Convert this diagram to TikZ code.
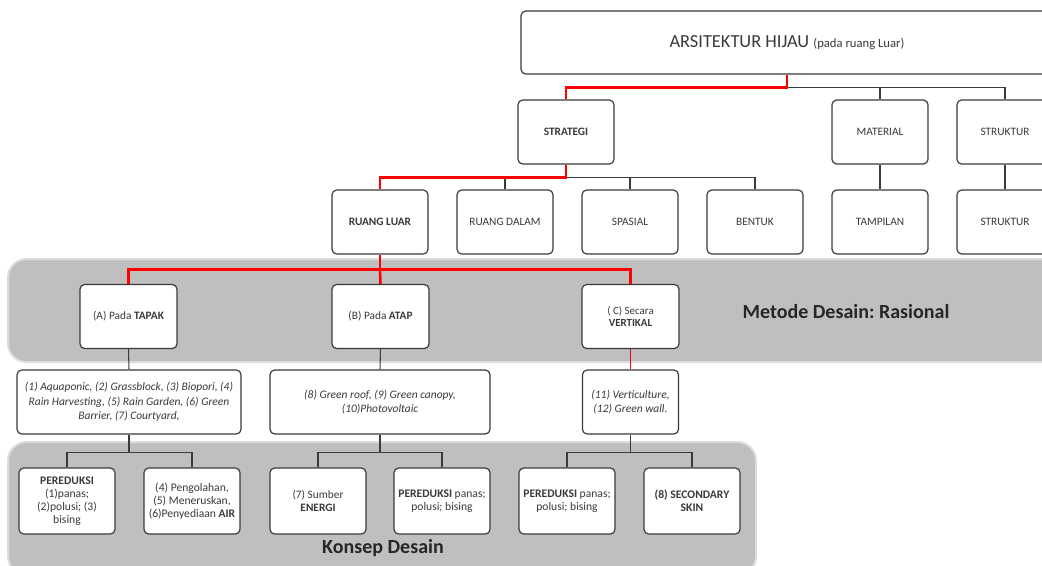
\documentclass[tikz,border=0pt]{standalone}
\usepackage{fontspec}
\setmainfont{Carlito}
\frenchspacing
\definecolor{boxline}{HTML}{3A3A3A}
\definecolor{txt}{HTML}{3A3A3A}
\definecolor{bandfill}{HTML}{BFBFBF}
\definecolor{bandedge}{HTML}{DCDCDC}
\definecolor{redline}{HTML}{FF0000}
\begin{document}
\frenchspacing
\begin{tikzpicture}[x=0.75pt,y=-0.75pt,
  box/.style={draw=boxline, line width=0.9pt, rounded corners=3.5pt, fill=white,
    minimum width=72pt, minimum height=48pt, align=center, inner sep=1pt,
    text=txt, font=\fontsize{8.5}{10.5}\selectfont},
  listbox/.style={box, font=\fontsize{8.6}{10.9}\selectfont\itshape},
  conbox/.style={box, minimum height=49.5pt, font=\fontsize{8.7}{9.6}\selectfont},
  band/.style={fill=bandfill, draw=bandedge, line width=1.5pt, rounded corners=14pt},
  conn/.style={draw=boxline, line width=0.8pt},
  redc/.style={draw=redline, line width=1.9pt},
  bandtitle/.style={font=\fontsize{15}{18}\selectfont\bfseries, text=black!85}
]
\useasboundingbox (0,0) rectangle (1042,565);
% bands
\path[band] (8,259) rectangle (1070,362);
\path[band] (8,442) rectangle (756,575);
\node[bandtitle] (metode) at (846,312) {Metode Desain: Rasional};
\node[bandtitle] (konsep) at (383,548) {Konsep Desain};

% top
\node[box, minimum width=399pt, minimum height=47.25pt] (top) at (787,42.5)
  {\fontsize{13.8}{15}\selectfont ARSITEKTUR HIJAU {\fontsize{9.5}{11}\selectfont (pada ruang Luar)}};

% row 1
\node[box] (strategi) at (566,132) {\textbf{STRATEGI}};
\node[box] (material) at (880,132) {MATERIAL};
\node[box] (struktur) at (1005,132) {STRUKTUR};

% row 2
\node[box] (rluar) at (380,222) {\textbf{RUANG LUAR}};
\node[box] (rdalam) at (505,222) {RUANG DALAM};
\node[box] (spasial) at (630,222) {SPASIAL};
\node[box] (bentuk) at (755,222) {BENTUK};
\node[box] (tampilan) at (880,222) {TAMPILAN};
\node[box] (struktur2) at (1005,222) {STRUKTUR};

% row 3
\node[box, minimum width=72.75pt] (tapak) at (128.5,316.5) {(A) Pada \textbf{TAPAK}};
\node[box, minimum width=72.75pt] (atap) at (380.5,316.5) {(B) Pada \textbf{ATAP}};
\node[box, minimum width=72.75pt, font=\fontsize{8.2}{8.6}\selectfont] (vert) at (630.5,316.5) {( C) Secara\\\textbf{VERTIKAL}};

% row 4
\node[listbox, minimum width=168pt] (l1) at (129,402)
  {(1) Aquaponic, (2) Grassblock, (3) Biopori, (4)\\Rain Harvesting, (5) Rain Garden, (6) Green\\Barrier, (7) Courtyard,};
\node[listbox, minimum width=165pt] (l2) at (380,402)
  {(8) Green roof, (9) Green canopy,\\(10)Photovoltaic};
\node[listbox, minimum width=72pt] (l3) at (630.5,402)
  {(11) Verticulture,\\(12) Green wall.};

% row 5
\node[conbox] (k1) at (67,501) {\textbf{PEREDUKSI}\\(1)panas;\\(2)polusi; (3)\\bising};
\node[conbox] (k2) at (192,501) {(4) Pengolahan,\\(5) Meneruskan,\\(6)Penyediaan \textbf{AIR}};
\node[conbox, font=\fontsize{8.5}{10}\selectfont] (k3) at (318,501) {(7) Sumber\\\textbf{ENERGI}};
\node[conbox] (k4) at (442,501) {\textbf{PEREDUKSI} panas;\\polusi; bising};
\node[conbox] (k5) at (567,501) {\textbf{PEREDUKSI} panas;\\polusi; bising};
\node[conbox] (k6) at (692,501) {\textbf{(8) SECONDARY}\\\textbf{SKIN}};

% junction coordinates
\coordinate (j1) at ([yshift=-9.75pt]top.south);
\coordinate (j2) at ([yshift=-9.75pt]strategi.south);
\coordinate (j3) at ([yshift=-11.25pt]rluar.south);
\coordinate (j4) at ([yshift=-13.5pt]l1.south);
\coordinate (j5) at ([yshift=-13.5pt]l2.south);
\coordinate (j6) at ([yshift=-13.5pt]l3.south);

% black connectors
\draw[conn] (j1) -| (material.north);
\draw[conn] (j1) -| (struktur.north);
\draw[conn] (j2) -| (rdalam.north);
\draw[conn] (j2) -| (spasial.north);
\draw[conn] (j2) -| (bentuk.north);
\draw[conn] (material.south) -- (tampilan.north);
\draw[conn] (struktur.south) -- (struktur2.north);
\draw[conn] (tapak.south) -- (l1.north);
\draw[conn] (atap.south) -- (l2.north);
\draw[conn] (l1.south) -- (j4);
\draw[conn] (j4) -| (k1.north);
\draw[conn] (j4) -| (k2.north);
\draw[conn] (l2.south) -- (j5);
\draw[conn] (j5) -| (k3.north);
\draw[conn] (j5) -| (k4.north);
\draw[conn] (l3.south) -- (j6);
\draw[conn] (j6) -| (k5.north);
\draw[conn] (j6) -| (k6.north);

% red path
\draw[redc] (top.south) -- (j1) -| (strategi.north);
\draw[redc] (strategi.south) -- (j2) -| (rluar.north);
\draw[redc] (rluar.south) -- (j3);
\draw[redc] (j3) -| (tapak.north);
\draw[redc] (j3) -- (atap.north);
\draw[redc] (j3) -| (vert.north);
\draw[draw=redline, line width=0.8pt] (vert.south) -- (l3.north);
\end{tikzpicture}
\end{document}
